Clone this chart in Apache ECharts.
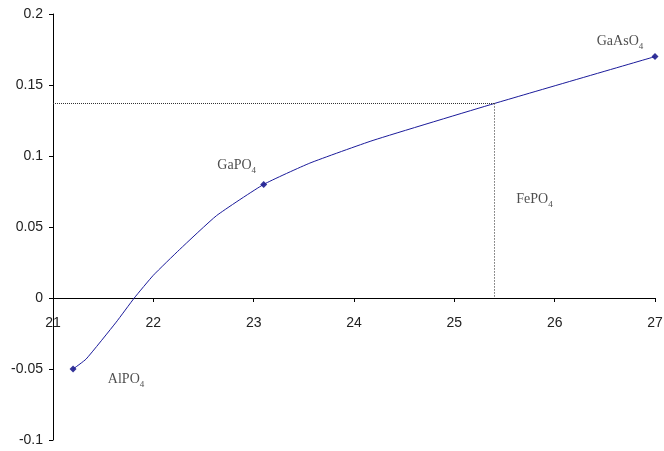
<!DOCTYPE html>
<html>
<head>
<meta charset="utf-8">
<script src="https://cdn.jsdelivr.net/npm/echarts@6/dist/echarts.min.js"></script>
<style>html,body{margin:0;padding:0;background:#fff}#c{width:664px;height:451px}</style>
</head>
<body>
<div id="c"></div>
<script>
const curveX = [21.2, 21.33, 21.63, 21.81, 22.0, 22.26, 22.63, 23.1, 23.56, 24.19, 25.4, 27.0];
const curveY = [-0.05, -0.043, -0.017, 0.0, 0.016, 0.034, 0.058, 0.080, 0.095, 0.111, 0.137, 0.170];
const pointNames = ['AlPO', 'GaPO', 'GaAsO'];
const pointX = [21.2, 23.1, 27.0];
const pointY = [-0.05, 0.080, 0.170];
const refX = 25.4;
const refY = 0.137;
const feLabelY = 0.071;
const yMin = -0.1, yMax = 0.2;

const chart = echarts.init(document.getElementById('c'));
const chartH = 451, gridTop = 14, gridBottom = 11;
const plotH = chartH - gridTop - gridBottom;
const zeroOffset = plotH * (0 - yMin) / (yMax - yMin);
const rich = {
  a: {fontFamily: 'Liberation Serif', fontSize: 14, color: '#222', lineHeight: 18, verticalAlign: 'bottom'},
  b: {fontFamily: 'Liberation Serif', fontSize: 9, color: '#222', lineHeight: 18, verticalAlign: 'bottom', padding: [0, 0, -3, 0]}
};
const offsets = [[53, 8], [-27, -21], [-35, -17]];
chart.setOption({
  animation: false,
  grid: {left: 53, right: 9, top: gridTop, bottom: gridBottom, containLabel: false, outerBoundsMode: 'none'},
  xAxis: {
    type: 'value', min: 21, max: 27, interval: 1, position: 'bottom', offset: -zeroOffset,
    axisLine: {onZero: false, lineStyle: {color: '#000', width: 1}},
    axisTick: {show: true, length: 4, lineStyle: {color: '#000'}},
    axisLabel: {color: '#222', fontFamily: 'Liberation Sans', fontSize: 14, margin: 18},
    splitLine: {show: false}
  },
  yAxis: {
    type: 'value', min: yMin, max: yMax, interval: 0.05,
    axisLine: {show: true, onZero: false, lineStyle: {color: '#000', width: 1}},
    axisTick: {show: true, length: 4, lineStyle: {color: '#000'}},
    axisLabel: {color: '#222', fontFamily: 'Liberation Sans', fontSize: 14, margin: 10,
      formatter: v => String(Math.round(v * 100) / 100)},
    splitLine: {show: false}
  },
  series: [
    {
      type: 'line', smooth: 0.15, showSymbol: false, symbol: 'none',
      data: curveX.map((x, i) => [x, curveY[i]]),
      lineStyle: {color: '#1a1a9a', width: 1},
      markLine: {
        silent: true, symbol: 'none', label: {show: false},
        lineStyle: {type: [1, 1], color: '#333', width: 1},
        data: [
          [{coord: [21, refY]}, {coord: [refX, refY]}],
          [{coord: [refX, refY], lineStyle: {type: [1, 2], color: '#222'}}, {coord: [refX, 0]}]
        ]
      }
    },
    {
      type: 'scatter', symbol: 'diamond', symbolSize: 7,
      itemStyle: {color: '#000080'},
      data: pointX.map((x, i) => ({
        value: [x, pointY[i]],
        label: {show: true, position: 'inside', offset: offsets[i],
          formatter: '{a|' + pointNames[i] + '}{b|4}', rich: rich}
      }))
    },
    {
      type: 'scatter', symbolSize: 0, silent: true,
      data: [{value: [refX, feLabelY], label: {show: true, position: 'inside', offset: [40, 0],
        formatter: '{a|FePO}{b|4}', rich: rich}}]
    }
  ]
});
</script>
</body>
</html>
